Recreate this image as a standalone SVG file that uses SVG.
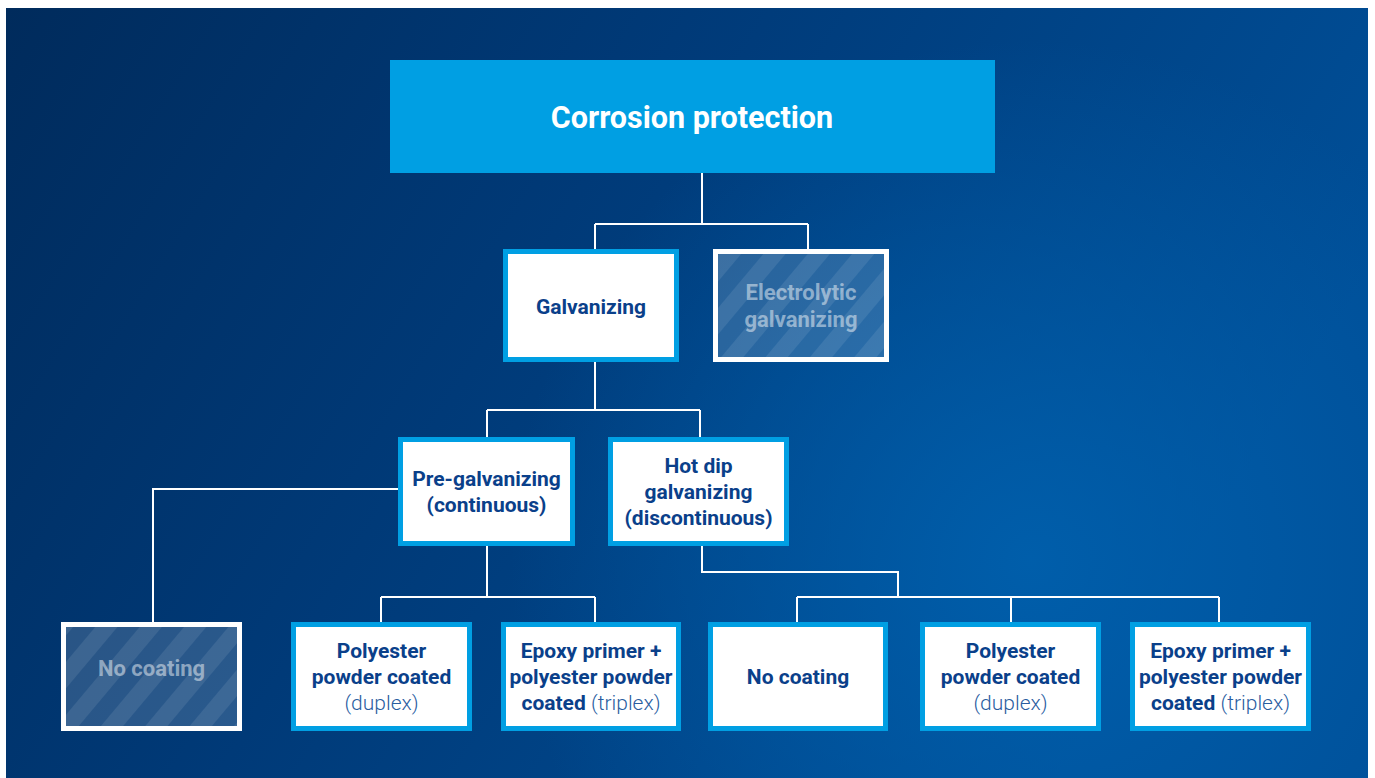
<svg xmlns="http://www.w3.org/2000/svg" width="1375" height="778" viewBox="0 0 1375 778">
<defs>
<linearGradient id="bg" x1="0" y1="0" x2="1" y2="0.35">
<stop offset="0" stop-color="#002b5c"/>
<stop offset="0.45" stop-color="#003a78"/>
<stop offset="1" stop-color="#004f98"/>
</linearGradient>
<radialGradient id="glow" cx="1030" cy="560" r="520" gradientUnits="userSpaceOnUse">
<stop offset="0" stop-color="#0060ad" stop-opacity="0.9"/>
<stop offset="1" stop-color="#0060ad" stop-opacity="0"/>
</radialGradient>
<pattern id="hatch" width="34" height="34" patternUnits="userSpaceOnUse" patternTransform="rotate(40)">
<rect width="34" height="34" fill="#ffffff" fill-opacity="0.16"/>
<rect width="17" height="34" fill="#ffffff" fill-opacity="0.09"/>
</pattern>
<style>
.bg{fill:url(#bg)}
.box{fill:#ffffff;stroke:#009fe3;stroke-width:5}
.dis{fill:url(#hatch);stroke:#ffffff;stroke-width:5}
.t{font-family:Roboto,"Liberation Sans",sans-serif;font-weight:700;font-size:21px;fill:#0a408a;text-anchor:middle}
.td{font-family:Roboto,"Liberation Sans",sans-serif;font-weight:700;font-size:22px;fill:#ffffff;fill-opacity:0.48;text-anchor:middle}
.l{font-weight:300;fill:#2a5d9f}
.title{font-family:Roboto,"Liberation Sans",sans-serif;font-weight:700;font-size:30.5px;fill:#ffffff;text-anchor:middle}
.c{fill:none;stroke:#ffffff;stroke-width:2}
</style>
</defs>
<rect x="0" y="0" width="1375" height="778" fill="#ffffff"/>
<rect class="bg" x="6" y="8" width="1362" height="770"/>
<rect x="6" y="8" width="1362" height="770" fill="url(#glow)"/>
<g id="connectors">
<path class="c" d="M702,173 V224 M595,224 H808 M595,224 V249 M808,224 V249"/>
<path class="c" d="M595,362 V410 M487,410 H700 M487,410 V437 M700,410 V437"/>
<path class="c" d="M398,489 H153 V622"/>
<path class="c" d="M487,546 V597 M381,597 H595 M381,597 V622 M595,597 V622"/>
<path class="c" d="M702,546 V572 H898 V597 M797,597 H1219 M797,597 V622 M1011,597 V622 M1219,597 V622"/>
</g>
<g id="root">
<rect x="390" y="60" width="605" height="113" fill="#009fe3"/>
<text class="title" x="692" y="128">Corrosion protection</text>
</g>
<g id="galvanizing">
<rect class="box" x="505.5" y="251.5" width="171" height="108"/>
<text class="t" x="591" y="314">Galvanizing</text>
</g>
<g id="electrolytic">
<rect class="dis" x="715.5" y="251.5" width="171" height="108"/>
<text class="td" x="801" y="300">Electrolytic</text>
<text class="td" x="801" y="327">galvanizing</text>
</g>
<g id="pregalv">
<rect class="box" x="400.5" y="439.5" width="172" height="104"/>
<text class="t" x="486.5" y="486">Pre-galvanizing</text>
<text class="t" x="486.5" y="512">(continuous)</text>
</g>
<g id="hotdip">
<rect class="box" x="610.5" y="439.5" width="176" height="104"/>
<text class="t" x="698.5" y="473">Hot dip</text>
<text class="t" x="698.5" y="499">galvanizing</text>
<text class="t" x="698.5" y="525">(discontinuous)</text>
</g>
<g id="nocoating1">
<rect class="dis" x="63.5" y="624.5" width="176" height="104"/>
<text class="td" x="151.5" y="676">No coating</text>
</g>
<g id="duplex1">
<rect class="box" x="293.5" y="624.5" width="176" height="104"/>
<text class="t" x="381.5" y="658">Polyester</text>
<text class="t" x="381.5" y="684">powder coated</text>
<text class="t l" x="381.5" y="710">(duplex)</text>
</g>
<g id="triplex1">
<rect class="box" x="503.5" y="624.5" width="175" height="104"/>
<text class="t" x="591" y="658">Epoxy primer +</text>
<text class="t" x="591" y="684">polyester powder</text>
<text class="t" x="591" y="710">coated <tspan class="l">(triplex)</tspan></text>
</g>
<g id="nocoating2">
<rect class="box" x="710.5" y="624.5" width="175" height="104"/>
<text class="t" x="798" y="684">No coating</text>
</g>
<g id="duplex2">
<rect class="box" x="922.5" y="624.5" width="176" height="104"/>
<text class="t" x="1010.5" y="658">Polyester</text>
<text class="t" x="1010.5" y="684">powder coated</text>
<text class="t l" x="1010.5" y="710">(duplex)</text>
</g>
<g id="triplex2">
<rect class="box" x="1132.5" y="624.5" width="176" height="104"/>
<text class="t" x="1220.5" y="658">Epoxy primer +</text>
<text class="t" x="1220.5" y="684">polyester powder</text>
<text class="t" x="1220.5" y="710">coated <tspan class="l">(triplex)</tspan></text>
</g>
</svg>
